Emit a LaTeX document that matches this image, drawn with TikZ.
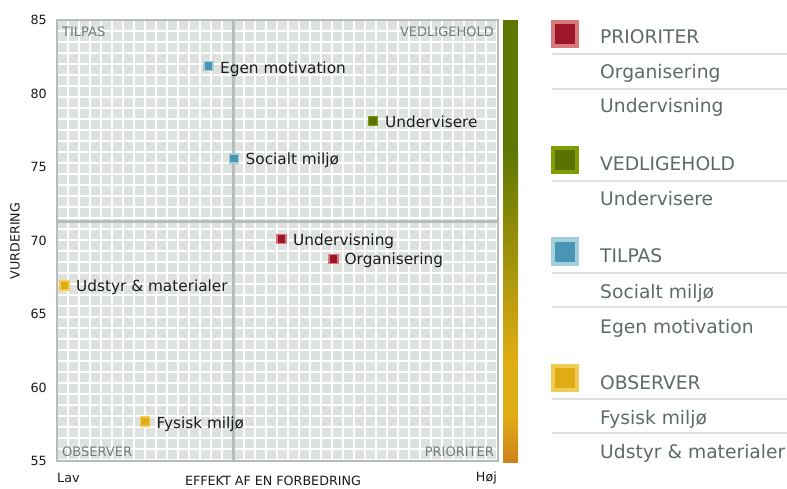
\documentclass[tikz,border=0pt]{standalone}
\usepackage{fontspec}
\setmainfont{DejaVu Sans}
\usepackage{tikz}
\usetikzlibrary{calc}

\definecolor{rodfyld}{HTML}{9B1729}
\definecolor{rodkant}{HTML}{D97A7A}
\definecolor{gronfyld}{HTML}{5B7200}
\definecolor{gronkant}{HTML}{7E9E04}
\definecolor{blafyld}{HTML}{4896B4}
\definecolor{blakant}{HTML}{A3CEDB}
\definecolor{gulfyld}{HTML}{E0AC15}
\definecolor{gulkant}{HTML}{F2CB55}
\definecolor{gitterbund}{HTML}{DDE2DF}
\definecolor{ramme}{HTML}{B6BCB8}
\definecolor{kvadtekst}{HTML}{717C77}
\definecolor{legtekst}{HTML}{5E6B65}
\definecolor{skille}{HTML}{DFDFDF}
\definecolor{bargron}{HTML}{5E7700}
\definecolor{bargul}{HTML}{E1AD14}
\definecolor{barorange}{HTML}{CF811B}
\definecolor{sort}{HTML}{1A1A1A}

\newcommand{\skrift}[1]{\fontsize{#1}{#1}\selectfont}

\begin{document}
\begin{tikzpicture}[x=1pt,y=-1pt,
  pkt/.style={rectangle,minimum size=9pt,inner sep=0pt,line width=1.5pt},
  legpkt/.style={rectangle,minimum size=24pt,inner sep=0pt,line width=4pt},
  navn/.style={anchor=base west,inner sep=0pt,text=sort,font=\skrift{15.3}},
  kvad/.style={inner sep=0pt,text=kvadtekst,font=\skrift{13}},
  akse/.style={inner sep=0pt,text=sort,font=\skrift{12.7}},
  legtxt/.style={anchor=base west,inner sep=0pt,text=legtekst,font=\skrift{18.7}},
  skillelinje/.style={skille,line width=2pt}]
\useasboundingbox (0,0) rectangle (787,489);

% gitter
\fill[gitterbund] (57,20) rectangle (498,461);
\begin{scope}[shift={(57,20)}]
\draw[white,line width=1.6pt,step=11pt] (0,0) grid (441,441);
\end{scope}
\draw[ramme,line width=3pt] (233.5,20) -- (233.5,461);
\draw[ramme,line width=3pt] (57,221.5) -- (498,221.5);
\draw[ramme,line width=2.5pt] (57,20) rectangle (498,461);

% kvadranter
\node[kvad,anchor=base west] (tilpas) at (62,37) {TILPAS};
\node[kvad,anchor=base east] (vedl) at (494,37) {VEDLIGEHOLD};
\node[kvad,anchor=base west] (obs) at (62,456) {OBSERVER};
\node[kvad,anchor=base east] (prio) at (494,456) {PRIORITER};

% akser
\foreach \v in {55,60,...,85}
  \node[akse,anchor=east] (y\v) at (47,{20+(85-\v)*14.7}) {\v};
\node[akse,rotate=90] (vurd) at (15,241) {VURDERING};
\node[akse,anchor=west] (lav) at (57,478) {Lav};
\node[akse,anchor=east] (hoj) at (497,478) {Høj};
\node[akse] (effekt) at (273,481) {EFFEKT AF EN FORBEDRING};

% farvebjaelke
\fill[bargron] (503,20) rectangle (518,151);
\shade[top color=bargron,bottom color=bargul] (503,150) rectangle (518,361);
\fill[bargul] (503,360) rectangle (518,416);
\shade[top color=bargul,bottom color=barorange] (503,415) rectangle (518,462);

% punkter
\node[pkt,fill=blafyld,draw=blakant] (egen) at (208.3,66) {};
\node[navn] (egent) at (220,73.5) {Egen motivation};
\node[pkt,fill=gronfyld,draw=gronkant] (underv) at (373,121) {};
\node[navn] (undervt) at (385,128) {Undervisere};
\node[pkt,fill=blafyld,draw=blakant] (social) at (234,158.7) {};
\node[navn] (socialt) at (245.5,165) {Socialt miljø};
\node[pkt,fill=rodfyld,draw=rodkant] (undvisn) at (281.7,239) {};
\node[navn] (undvisnt) at (293,245.5) {Undervisning};
\node[pkt,fill=rodfyld,draw=rodkant] (org) at (333.3,259) {};
\node[navn] (orgt) at (344.5,265) {Organisering};
\node[pkt,fill=gulfyld,draw=gulkant] (udstyr) at (64.5,285.5) {};
\node[navn] (udstyrt) at (76,291.5) {Udstyr \& materialer};
\node[pkt,fill=gulfyld,draw=gulkant] (fysisk) at (145,421.5) {};
\node[navn] (fysiskt) at (156.5,428) {Fysisk miljø};

% forklaring
\node[legpkt,fill=rodfyld,draw=rodkant] (lprio) at (564.5,34) {};
\node[legtxt] (lpriot) at (600,44) {PRIORITER};
\draw[skillelinje] (552,54) -- (787,54);
\node[legtxt] (lorg) at (600,79) {Organisering};
\draw[skillelinje] (552,89) -- (787,89);
\node[legtxt] (lundvisn) at (600,113) {Undervisning};

\node[legpkt,fill=gronfyld,draw=gronkant] (lvedl) at (564.5,160) {};
\node[legtxt] (lvedlt) at (600,171) {VEDLIGEHOLD};
\draw[skillelinje] (552,181) -- (787,181);
\node[legtxt] (lunderv) at (600,206) {Undervisere};

\node[legpkt,fill=blafyld,draw=blakant] (ltilp) at (564.5,251.5) {};
\node[legtxt] (ltilpt) at (600,262) {TILPAS};
\draw[skillelinje] (552,273) -- (787,273);
\node[legtxt] (lsocial) at (600,298) {Socialt miljø};
\draw[skillelinje] (552,307) -- (787,307);
\node[legtxt] (legen) at (600,333) {Egen motivation};

\node[legpkt,fill=gulfyld,draw=gulkant] (lobs) at (564.5,378) {};
\node[legtxt] (lobst) at (600,389) {OBSERVER};
\draw[skillelinje] (552,399) -- (787,399);
\node[legtxt] (lfysisk) at (600,424) {Fysisk miljø};
\draw[skillelinje] (552,433) -- (787,433);
\node[legtxt] (ludstyr) at (600,458) {Udstyr \& materialer};
\end{tikzpicture}
\end{document}
